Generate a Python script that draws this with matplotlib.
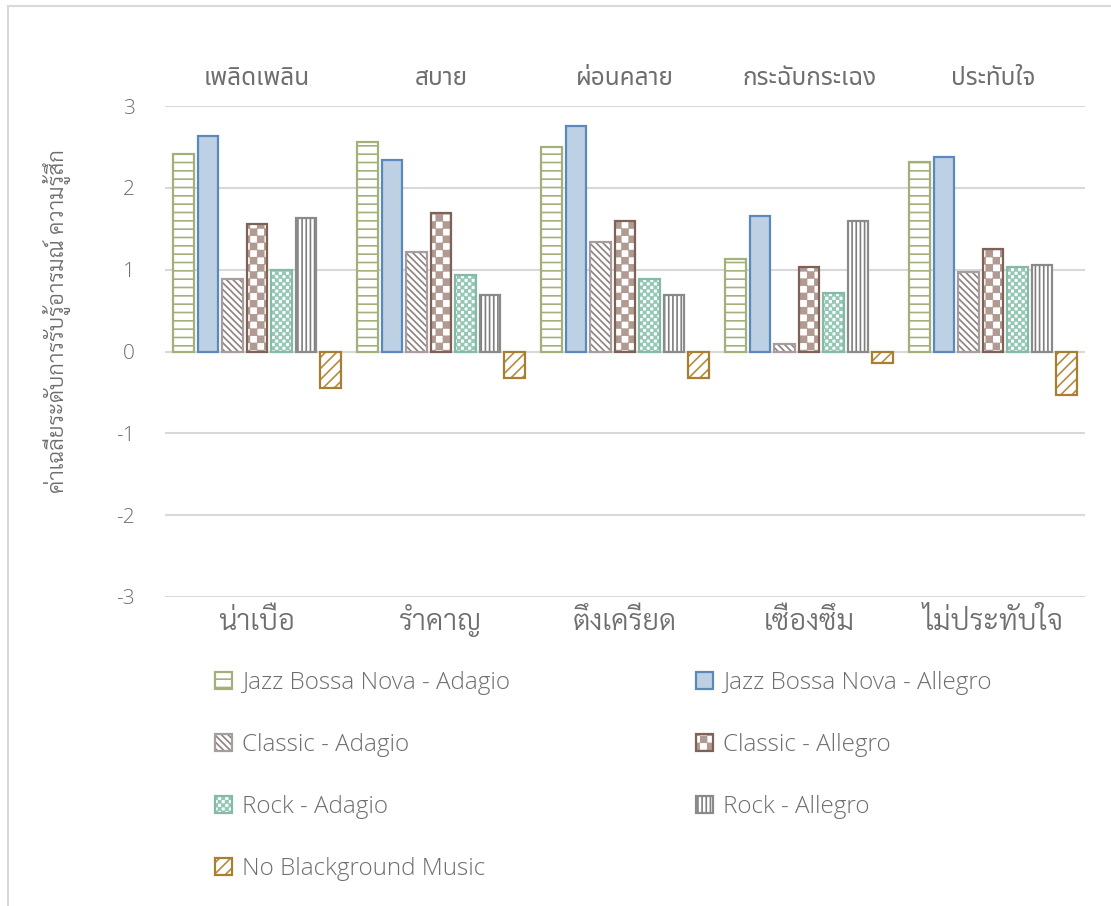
import numpy as np
import matplotlib
matplotlib.use("Agg")
import matplotlib.pyplot as plt
import matplotlib.hatch as mhatch
from matplotlib.path import Path
from matplotlib.lines import Line2D
from matplotlib.legend_handler import HandlerTuple

# categories: positive feelings on top, their negative counterparts on the bottom
top_labels = ["เพลิดเพลิน", "สบาย", "ผ่อนคลาย", "กระฉับกระเฉง", "ประทับใจ"]
bottom_labels = ["น่าเบื่อ", "รำคาญ", "ตึงเครียด", "เซื่องซึม", "ไม่ประทับใจ"]
ylabel = "ค่าเฉลี่ยระดับการรับรู้อารมณ์ ความรู้สึก"

series_names = [
    "Jazz Bossa Nova - Adagio",
    "Jazz Bossa Nova - Allegro",
    "Classic - Adagio",
    "Classic - Allegro",
    "Rock - Adagio",
    "Rock - Allegro",
    "No Blackground Music",
]
jazz_adagio = [2.41, 2.56, 2.50, 1.13, 2.31]
jazz_allegro = [2.63, 2.34, 2.75, 1.66, 2.38]
classic_adagio = [0.88, 1.22, 1.34, 0.09, 0.97]
classic_allegro = [1.56, 1.69, 1.59, 1.03, 1.25]
rock_adagio = [1.00, 0.94, 0.88, 0.72, 1.03]
rock_allegro = [1.63, 0.69, 0.69, 1.59, 1.06]
no_music = [-0.45, -0.32, -0.32, -0.14, -0.53]
series_values = [jazz_adagio, jazz_allegro, classic_adagio, classic_allegro,
                 rock_adagio, rock_allegro, no_music]

# (face, hatch, hatch colour, edge colour)
styles = [
    ("white", "--", "#A3B07C", "#A3B07C"),
    ("#BED0E3", "", "#5A89BE", "#5A89BE"),
    ("white", "\\\\\\\\\\", "#8E8282", "#A89D9D"),
    ("white", "OO", "#B19A91", "#7E6157"),
    ("white", "OOOO", "#94C7B4", "#86BAA6"),
    ("white", "||||", "#7F7F7F", "#8A8A8A"),
    ("white", "///", "#B48C3E", "#A87F30"),
]


class CheckerHatch(mhatch.HatchPatternBase):
    """Checkerboard fill, 'O' count sets the cell density."""

    def __init__(self, hatch, density):
        self.num_cells = hatch.count("O") * density * 7 // 6
        n = self.num_cells
        self.num_vertices = ((n * n + 1) // 2) * 5 if n else 0

    def set_vertices_and_codes(self, vertices, codes):
        n = self.num_cells
        step = 1.0 / n
        inset = 0.006
        k = 0
        for i in range(n):
            for j in range(n):
                if (i + j) % 2:
                    continue
                x0, y0 = i * step + inset, j * step + inset
                x1, y1 = (i + 1) * step - inset, (j + 1) * step - inset
                vertices[k:k + 5] = [(x0, y0), (x1, y0), (x1, y1), (x0, y1), (x0, y0)]
                codes[k:k + 5] = [Path.MOVETO, Path.LINETO, Path.LINETO,
                                  Path.LINETO, Path.CLOSEPOLY]
                k += 5


mhatch._hatch_types = [CheckerHatch if t is mhatch.LargeCircles else t
                       for t in mhatch._hatch_types]
plt.rcParams["hatch.linewidth"] = 1.2
plt.rcParams["axes.unicode_minus"] = False

text_color = "#6E6E6E"
latin = ["Open Sans", "DejaVu Sans"]
thai_top = ["Noto Sans Thai", "DejaVu Sans"]
thai_bottom = ["Sarabun", "DejaVu Sans"]

fig = plt.figure(figsize=(11.11, 9.06), dpi=100)
ax = fig.add_axes([165 / 1111, 1 - 597 / 906, 920 / 1111, 491 / 906])

x = np.arange(len(top_labels))
slot = 0.1335
width = 0.112
handles = []
for i, (vals, (face, hatch, hcol, ecol)) in enumerate(zip(series_values, styles)):
    pos = x + (i - 3) * slot
    fill = ax.bar(pos, vals, width, color=face, hatch=hatch, edgecolor=hcol,
                  linewidth=0, zorder=2)
    edge = ax.bar(pos, vals, width, fill=False, edgecolor=ecol,
                  linewidth=1.6, zorder=3)
    handles.append((fill, edge))

ax.set_xlim(-0.5, len(top_labels) - 0.5)
ax.set_ylim(-3, 3)
ax.set_yticks(np.arange(-3, 4))
ax.yaxis.grid(True, color="#D9D9D9", linewidth=1.5, zorder=0)
ax.set_axisbelow(True)
for s in ax.spines.values():
    s.set_visible(False)
ax.tick_params(axis="both", length=0, colors=text_color)
ax.tick_params(axis="y", pad=22)
for t in ax.get_yticklabels():
    t.set_fontfamily(latin)
    t.set_fontweight(300)
    t.set_fontsize(15)

ax.set_xticks(x)
ax.set_xticklabels(bottom_labels, family=thai_bottom, fontweight=300,
                   fontsize=21, color=text_color, va="baseline")
ax.tick_params(axis="x", pad=24)

top = ax.secondary_xaxis("top")
top.set_xticks(x)
top.set_xticklabels(top_labels, family=thai_top, fontsize=17.5,
                    color=text_color, va="baseline")
top.tick_params(length=0, pad=15)
for s in top.spines.values():
    s.set_visible(False)

ax.set_ylabel(ylabel, family=thai_bottom, fontweight=300, fontsize=16,
              color=text_color)
ax.yaxis.label.set_va("center")
ax.yaxis.set_label_coords(-0.117, 0.562)

# legend filled row by row, two columns
order = [0, 2, 4, 6, 1, 3, 5]
leg = fig.legend([handles[k] for k in order], [series_names[k] for k in order],
                 handler_map={tuple: HandlerTuple(ndivide=1, pad=0)},
                 loc="upper left", bbox_to_anchor=(215 / 1111, 1 - 671 / 906),
                 borderpad=0, borderaxespad=0,
                 ncol=2, frameon=False, handlelength=0.7, handleheight=0.7,
                 handletextpad=0.42, labelspacing=1.57, columnspacing=7.65,
                 prop={"family": latin, "weight": 300, "size": 17.5})
for t in leg.get_texts():
    t.set_color(text_color)

# chart-area border, left and top edges
fig.add_artist(Line2D([8 / 1111, 8 / 1111], [0, 1 - 6 / 906],
                      transform=fig.transFigure, color="#D9D9D9", linewidth=1.5))
fig.add_artist(Line2D([8 / 1111, 1], [1 - 6 / 906, 1 - 6 / 906],
                      transform=fig.transFigure, color="#D9D9D9", linewidth=1.5))

fig.savefig("out.png", dpi=100)
